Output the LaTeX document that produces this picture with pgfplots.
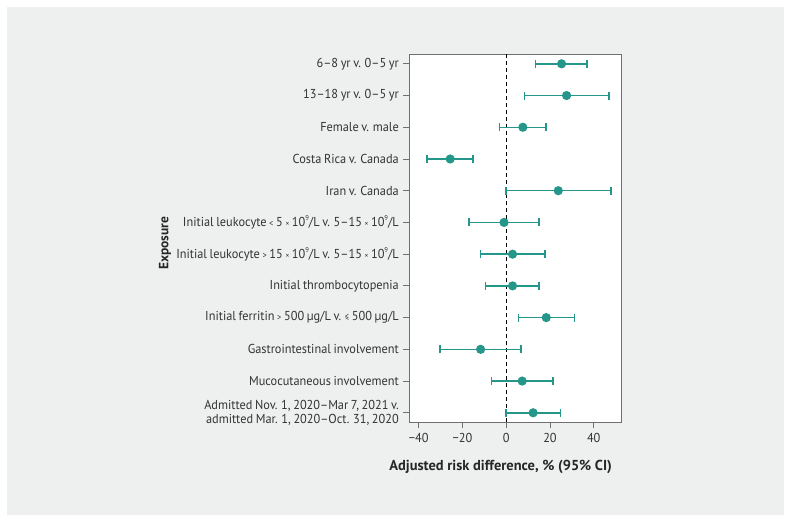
\documentclass[border=0pt]{standalone}
\usepackage{pgfplots}
\pgfplotsset{compat=1.18}
\usepackage{pgfplotstable}
\usepackage{fontspec}
\setmainfont{PT Sans}[FakeStretch=0.95, WordSpace=0.8]
\newfontfamily\labfont{PT Sans}
\definecolor{teal1}{HTML}{25968A}
\definecolor{bggrey}{HTML}{EEEFEF}
\definecolor{txt}{HTML}{333333}
\definecolor{axgrey}{HTML}{707070}
\newcommand{\tms}{{\footnotesize×}}
\newcommand{\supn}[1]{\raisebox{0.45em}{\scriptsize #1}}
\pgfplotstableread{
y x em ep
1 25.3 11.9 11.6
2 27.6 19.2 19.5
3 7.6 10.6 10.5
4 -25.6 10.5 10.5
5 23.8 23.8 24.2
6 -1.0 16.1 16.0
7 2.9 14.6 14.8
8 2.9 12.3 12.1
9 18.3 12.7 13.0
10 -11.7 18.5 18.4
11 7.3 14.0 14.2
12 12.3 12.3 12.6
}\datatable
\begin{document}
\begin{tikzpicture}[x=1bp,y=1bp]
\fill[white] (0,0) rectangle (791,522);
\fill[bggrey] (7,7) rectangle (784,515);
\begin{axis}[
  at={(409.3bp,99.7bp)}, anchor=south west,
  scale only axis, width=212.4bp, height=368bp,
  axis background/.style={fill=white},
  xmin=-44.3, xmax=52.8,
  ymin=0.7, ymax=12.3, y dir=reverse,
  xtick={-40,-20,0,20,40},
  xticklabels={−40,−20,0,20,40},
  ytick={1,...,12},
  xtick pos=bottom, ytick pos=left,
  yticklabels={
    {6–8 yr v. 0–5 yr},
    {13–18 yr v. 0–5 yr},
    {Female v. male},
    {Costa Rica v. Canada},
    {Iran v. Canada},
    {Initial leukocyte {\small<} 5 \tms{} 10\supn{9}/L v. 5–15 \tms{} 10\supn{9}/L},
    {Initial leukocyte {\small>} 15 \tms{} 10\supn{9}/L v. 5–15 \tms{} 10\supn{9}/L},
    {Initial thrombocytopenia},
    {Initial ferritin {\small>} 500 µg/L v. {\small≤} 500 µg/L},
    {Gastrointestinal involvement},
    {Mucocutaneous involvement},
    {Admitted Nov. 1, 2020–Mar 7, 2021 v.\\admitted Mar. 1, 2020–Oct. 31, 2020}
  },
  yticklabel style={align=right, font=\fontsize{13}{14.3}\selectfont, text=txt},
  xticklabel style={font=\fontsize{13}{14.3}\selectfont, text=txt},
  tick align=outside, major tick length=6bp,
  tick style={axgrey, line width=0.8pt},
  axis line style={axgrey, line width=0.8pt},
  y tick label style={xshift=-1bp},
  x tick label style={yshift=-1bp},
  xlabel={\bfseries Adjusted risk difference, \% (95\% CI)},
  ylabel={\bfseries Exposure},
  xlabel style={at={(axis description cs:0.43,-0.1207)}, anchor=center, font=\labfont\fontsize{14.5}{16}\selectfont, text=black!85},
  ylabel style={at={(axis description cs:-1.150,0.486)}, anchor=center, font=\labfont\fontsize{13.5}{15}\selectfont, text=black!85},
  clip=false,
]
\addplot[black, dashed, dash pattern=on 4bp off 3bp, line width=1bp] coordinates {(0,0.7) (0,12.3)};
\addplot[teal1, only marks, mark=*, mark size=3.8bp, mark options={fill=teal1, draw=teal1},
  line width=1.5bp,
  error bars/.cd, x dir=both, x explicit,
  error mark=|, error mark options={mark size=4bp, line width=1.5bp, teal1},
  error bar style={line width=1.5bp, teal1}]
  table[x=x, y=y, x error minus=em, x error plus=ep] {\datatable};
\end{axis}
\end{tikzpicture}
\end{document}
